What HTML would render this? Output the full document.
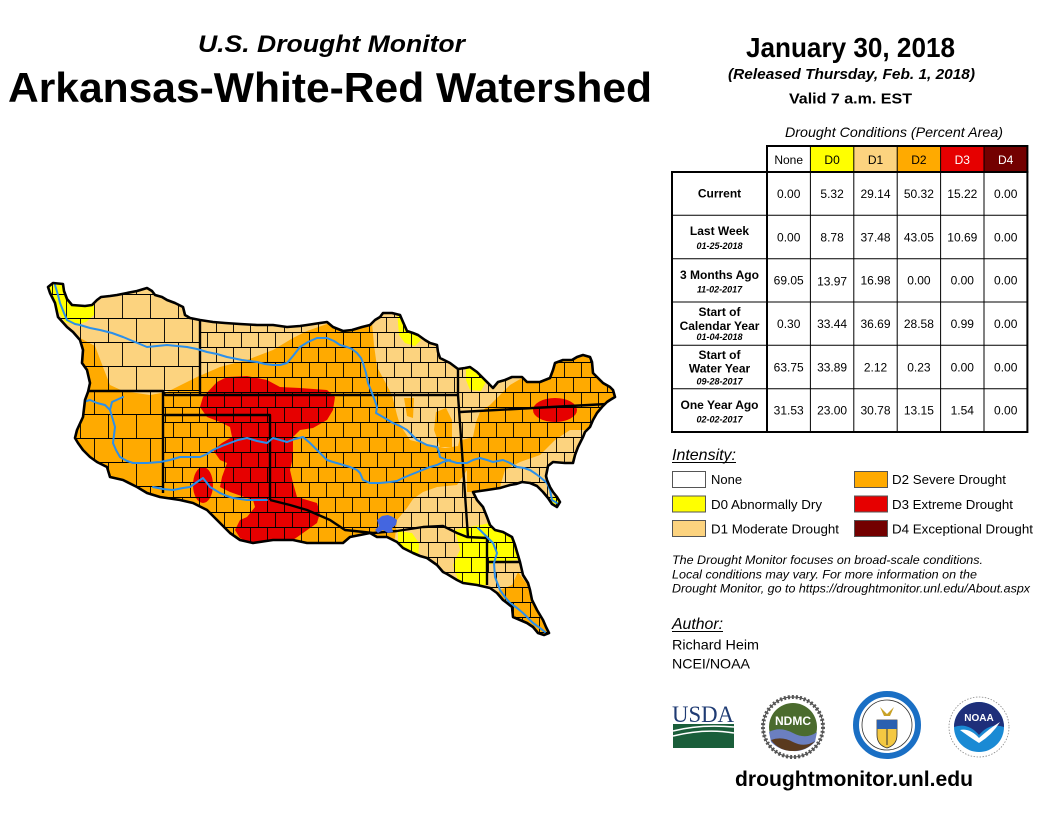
<!DOCTYPE html>
<html><head><meta charset="utf-8"><style>
html,body{margin:0;padding:0;background:#fff;}
svg{display:block;}
text{font-family:"Liberation Sans",Arial,sans-serif;}
</style></head><body>
<svg width="1056" height="816" viewBox="0 0 1056 816" xmlns="http://www.w3.org/2000/svg">
<rect width="1056" height="816" fill="#fff"/>
<defs>
<clipPath id="ws"><polygon points="50,293 48,287 53,283 63,284 64,291 67,299 72,305 85,306 92,305 97,300 101,297 110,296 117,295 127,293 137,291 147,288 152,291 155,295 162,297 167,300 175,303 183,307 185,315 190,318 200,320 213,322 225,323 240,324 257,325 273,325 287,327 300,326 307,325 320,323 327,322 333,327 343,331 352,330 362,327 370,325 375,320 380,317 383,313 392,313 400,315 403,322 407,331 413,333 418,335 425,340 430,343 437,345 438,352 440,358 450,363 458,369 465,368 470,367 477,372 483,378 490,385 493,388 498,382 505,380 512,377 522,377 527,382 540,382 550,378 553,370 555,363 563,360 572,360 577,357 583,355 590,357 592,362 593,373 598,378 603,383 610,387 613,390 615,397 610,400 607,402 602,407 597,413 593,420 590,427 585,432 583,437 578,447 575,455 573,463 565,463 553,462 548,466 546,476 547,480 550,487 553,492 557,497 560,502 557,507 552,504 548,498 543,492 537,486 530,483 522,482 516,484 510,485 500,488 487,490 473,492 477,500 483,507 487,517 490,525 495,530 503,532 512,537 515,545 517,552 520,562 523,575 528,583 530,590 532,600 537,610 543,620 546,627 549,633 544,635 538,633 533,627 527,623 520,620 513,617 512,607 507,603 503,600 497,593 490,588 477,585 463,583 457,580 447,574 443,572 437,565 427,558 420,556 413,553 403,548 397,542 387,537 377,537 370,533 360,535 350,537 343,543 325,543 307,543 293,540 273,540 253,543 240,540 230,533 220,523 207,510 193,503 180,500 160,497 147,493 137,487 123,480 110,477 107,467 97,462 90,457 83,450 78,443 75,438 77,430 83,417 85,400 88,392 90,383 87,370 82,363 83,350 80,340 73,332 67,327 58,317 55,303"/></clipPath>
<clipPath id="eastPart"><polygon points="200,270 630,270 630,650 163,650 163,392 200,392"/></clipPath>
<clipPath id="westPart"><polygon points="40,270 200,270 200,392 163,392 163,650 40,650"/></clipPath>
<pattern id="cty" width="34" height="30" patternUnits="userSpaceOnUse" x="3" y="2">
<path d="M0,0.5H34 M0,15.5H34 M0.5,0V15 M17.5,0V15 M9.5,15V30 M26.5,15V30" stroke="#000" stroke-width="0.9" fill="none"/>
</pattern>
<pattern id="ctyBig" width="56" height="48" patternUnits="userSpaceOnUse" x="10" y="6">
<path d="M0,0.5H56 M0,24.5H56 M0.5,0V24 M28.5,0V24 M14.5,24V48 M42.5,24V48" stroke="#000" stroke-width="0.9" fill="none"/>
</pattern>
</defs>

<!-- MAP -->
<g clip-path="url(#ws)">
<rect x="40" y="270" width="590" height="380" fill="#FFAA00"/>
<polygon fill="#FCD37F" points="40,270 345,270 345,322 327,324 307,331 293,338 273,350 247,360 220,367 197,377 167,392 150,395 123,391 110,385 103,367 95,346 80,338 40,338"/>
<polygon fill="#FCD37F" points="370,300 420,300 437,340 445,360 458,368 462,400 462,430 458,446 445,448 430,445 410,440 400,425 397,415 392,395 383,378 377,367 374,345"/>
<polygon fill="#FFAA00" points="436,412 446,408 452,420 452,447 440,447 434,430"/>
<polygon fill="#FFAA00" points="404,398 414,398 413,418 407,416"/>
<polygon fill="#FCD37F" points="458,365 520,365 522,378 510,385 500,395 490,405 480,412 476,422 473,437 462,440 458,430"/>
<polygon fill="#FCD37F" points="500,487 505,470 520,462 540,455 555,440 570,430 590,430 582,455 573,465 560,468 550,475 552,492 562,508 540,490 520,487"/>
<polygon fill="#FCD37F" points="467,470 467,492 478,492 490,525 505,532 515,545 520,563 525,580 532,600 545,630 470,640 380,560 395,538 397,520 407,508 413,499 423,492 437,487 457,485"/>
<polygon fill="#FFAA00" points="500,590 512,585 518,572 526,583 532,600 545,630 552,640 530,640 505,612 495,597"/>
<polygon fill="#FFFF00" points="455,530 470,527 490,523 505,530 515,540 518,560 500,562 487,565 487,585 470,585 458,580 453,565 460,550"/>
<polygon fill="#FFFF00" points="398,531 412,533 419,543 418,560 408,553 398,545"/>
<polygon fill="#FFFF00" points="397,310 405,312 408,330 414,333 421,340 415,346 405,343 399,335"/>
<polygon fill="#FFFF00" points="466,366 478,371 486,382 481,391 470,390 466,380"/>
<polygon fill="#FFFF00" points="40,270 63,280 65,292 69,301 73,306 86,306 94,304 94,315 86,322 75,325 65,322 58,311 40,300"/>
<polygon fill="#FFFF00" points="573,456 580,452 578,464 572,465"/>
<polygon fill="#FFFF00" points="550,496 556,497 560,504 554,507"/>
<polygon fill="#E60000" points="217,382 227,377 247,376 267,380 280,387 300,388 327,390 335,397 333,410 327,420 313,428 300,430 293,437 293,457 290,470 293,483 297,497 307,500 317,503 320,513 317,523 303,533 293,540 273,545 253,545 240,538 235,530 240,520 247,517 255,507 253,500 230,492 220,487 222,477 227,463 220,460 213,450 222,443 232,437 230,427 220,422 207,417 200,407 203,397"/>
<ellipse cx="203" cy="485" rx="10" ry="18" fill="#E60000"/>
<ellipse cx="555" cy="410" rx="22" ry="12" fill="#E60000"/>
<g clip-path="url(#eastPart)"><rect x="40" y="270" width="590" height="380" fill="url(#cty)"/></g>
<g clip-path="url(#westPart)"><rect x="40" y="270" width="590" height="380" fill="url(#ctyBig)"/></g>
<g fill="none" stroke="#000" stroke-width="2.4" stroke-linejoin="round">
<polyline points="200,318 200,395"/>
<polyline points="86,391 163,391 165,395 458,395"/>
<polyline points="163,391 163,493"/>
<polyline points="163,415 270,415 270,500"/>
<polyline points="270,500 290,505 307,510 330,520 345,530 373,533 397,531 423,527 443,526 457,533 467,537 487,538"/>
<polyline points="458,368 458,395 468,537"/>
<polyline points="460,412 607,404"/>
<polyline points="487,538 487,585"/>
<polyline points="487,562 520,562"/>
</g>
<g fill="none" stroke="#2B8FEA" stroke-width="2" stroke-linejoin="round" stroke-linecap="round">
<polyline points="55,285 58,295 60,303 64,313 67,320 75,324 80,325 90,328 100,330 112,333 123,337 135,342 147,347 157,346 167,345 177,346 187,347 197,349 207,352 217,354 227,357 242,360 257,362 265,364 273,365 280,365 287,363 293,356 300,347 308,342 317,338 327,338 334,341 340,345 347,347 352,349 357,353 361,358 363,363 366,373 368,383 372,393 375,401 377,407 376,413 383,417 393,423 400,426 407,430 412,435 417,440 427,445 437,447 439,452 440,457 447,460 457,463 467,463 473,460 480,458 487,460 493,462 503,460 510,463 517,467 524,468 530,470 536,474 540,477 547,483 550,490 552,500 557,503"/>
<polyline points="123,397 112,402 110,410 113,420 115,427 114,435 113,443 116,450 120,457 127,461 133,463 147,463 160,462 170,460 180,457 190,457 200,457 207,454 213,450 222,446 230,443 238,440 247,438 257,441 267,443 273,438 280,440 287,442 295,439 303,437 310,443 317,450 322,455 327,460 333,462 340,464 350,467 357,470 360,473 363,480 370,483 380,483 390,482 397,481 403,478 410,475 420,471 430,467 437,465 443,462 450,460"/>
<polyline points="83,402 90,400 97,403 105,405 110,410"/>
<polyline points="153,487 163,489 173,490 183,488 190,487 197,482 203,478 207,483 210,487 215,490 220,493 227,496 233,498 240,499 247,500 257,500 267,500"/>
<polyline points="478,528 483,533 487,537 493,543 497,553 494,563 495,577 500,590 505,597 510,603 517,608 523,613 528,618 533,623 540,628 545,632"/>
</g>
<polygon fill="#4466E0" points="377,520 382,516 388,515 393,517 397,520 396,525 392,528 393,532 388,533 383,530 378,533 375,530 379,526"/>
</g>
<polygon points="50,293 48,287 53,283 63,284 64,291 67,299 72,305 85,306 92,305 97,300 101,297 110,296 117,295 127,293 137,291 147,288 152,291 155,295 162,297 167,300 175,303 183,307 185,315 190,318 200,320 213,322 225,323 240,324 257,325 273,325 287,327 300,326 307,325 320,323 327,322 333,327 343,331 352,330 362,327 370,325 375,320 380,317 383,313 392,313 400,315 403,322 407,331 413,333 418,335 425,340 430,343 437,345 438,352 440,358 450,363 458,369 465,368 470,367 477,372 483,378 490,385 493,388 498,382 505,380 512,377 522,377 527,382 540,382 550,378 553,370 555,363 563,360 572,360 577,357 583,355 590,357 592,362 593,373 598,378 603,383 610,387 613,390 615,397 610,400 607,402 602,407 597,413 593,420 590,427 585,432 583,437 578,447 575,455 573,463 565,463 553,462 548,466 546,476 547,480 550,487 553,492 557,497 560,502 557,507 552,504 548,498 543,492 537,486 530,483 522,482 516,484 510,485 500,488 487,490 473,492 477,500 483,507 487,517 490,525 495,530 503,532 512,537 515,545 517,552 520,562 523,575 528,583 530,590 532,600 537,610 543,620 546,627 549,633 544,635 538,633 533,627 527,623 520,620 513,617 512,607 507,603 503,600 497,593 490,588 477,585 463,583 457,580 447,574 443,572 437,565 427,558 420,556 413,553 403,548 397,542 387,537 377,537 370,533 360,535 350,537 343,543 325,543 307,543 293,540 273,540 253,543 240,540 230,533 220,523 207,510 193,503 180,500 160,497 147,493 137,487 123,480 110,477 107,467 97,462 90,457 83,450 78,443 75,438 77,430 83,417 85,400 88,392 90,383 87,370 82,363 83,350 80,340 73,332 67,327 58,317 55,303" fill="none" stroke="#000" stroke-width="2.6" stroke-linejoin="round"/>

<!-- TITLES -->
<text x="198" y="52" font-size="24" font-weight="bold" font-style="italic" textLength="267" lengthAdjust="spacingAndGlyphs">U.S. Drought Monitor</text>
<text x="8" y="102" font-size="42" font-weight="bold" textLength="644" lengthAdjust="spacingAndGlyphs">Arkansas-White-Red Watershed</text>
<text x="746" y="57" font-size="28" font-weight="bold" textLength="209" lengthAdjust="spacingAndGlyphs">January 30, 2018</text>
<text x="728" y="79" font-size="15" font-weight="bold" font-style="italic" textLength="247" lengthAdjust="spacingAndGlyphs">(Released Thursday, Feb. 1, 2018)</text>
<text x="789" y="103.5" font-size="15" font-weight="bold" textLength="123" lengthAdjust="spacingAndGlyphs">Valid 7 a.m. EST</text>

<!-- TABLE -->
<text x="785" y="137" font-size="14" font-style="italic" textLength="218" lengthAdjust="spacingAndGlyphs">Drought Conditions (Percent Area)</text>
<rect x="767" y="146" width="43.4" height="26" fill="#fff"/>
<rect x="810.4" y="146" width="43.4" height="26" fill="#FFFF00"/>
<rect x="853.8" y="146" width="43.4" height="26" fill="#FCD37F"/>
<rect x="897.2" y="146" width="43.4" height="26" fill="#FFAA00"/>
<rect x="940.6" y="146" width="43.4" height="26" fill="#E60000"/>
<rect x="984" y="146" width="43.4" height="26" fill="#730000"/>
<g font-size="12" text-anchor="middle">
<text x="788.7" y="164">None</text>
<text x="832.1" y="164">D0</text>
<text x="875.5" y="164">D1</text>
<text x="918.9" y="164">D2</text>
<text x="962.3" y="164" fill="#fff">D3</text>
<text x="1005.7" y="164" fill="#fff">D4</text>
</g>
<g stroke="#000" fill="none">
<g stroke-width="1">
<line x1="810.4" y1="146" x2="810.4" y2="432"/>
<line x1="853.8" y1="146" x2="853.8" y2="432"/>
<line x1="897.2" y1="146" x2="897.2" y2="432"/>
<line x1="940.6" y1="146" x2="940.6" y2="432"/>
<line x1="984" y1="146" x2="984" y2="432"/>
<line x1="672" y1="215.3" x2="1027.4" y2="215.3"/>
<line x1="672" y1="258.7" x2="1027.4" y2="258.7"/>
<line x1="672" y1="302" x2="1027.4" y2="302"/>
<line x1="672" y1="345.3" x2="1027.4" y2="345.3"/>
<line x1="672" y1="388.7" x2="1027.4" y2="388.7"/>
</g>
<g stroke-width="2">
<rect x="767" y="146" width="260.4" height="26"/>
<rect x="672" y="172" width="355.4" height="260"/>
<line x1="767" y1="172" x2="767" y2="432"/>
</g>
</g>
<g font-size="12" font-weight="bold" text-anchor="middle">
<text x="719.5" y="197.5">Current</text>
<text x="719.5" y="235">Last Week</text>
<text x="719.5" y="279">3 Months Ago</text>
<text x="719.5" y="316">Start of</text>
<text x="719.5" y="330">Calendar Year</text>
<text x="719.5" y="359">Start of</text>
<text x="719.5" y="372.5">Water Year</text>
<text x="719.5" y="409">One Year Ago</text>
</g>
<g font-size="9" font-weight="bold" font-style="italic" text-anchor="middle">
<text x="719.5" y="249">01-25-2018</text>
<text x="719.5" y="292.5">11-02-2017</text>
<text x="719.5" y="340">01-04-2018</text>
<text x="719.5" y="384.5">09-28-2017</text>
<text x="719.5" y="422.5">02-02-2017</text>
</g>
<g font-size="12" text-anchor="middle">
<text x="788.7" y="198">0.00</text><text x="832.1" y="198">5.32</text><text x="875.5" y="198">29.14</text><text x="918.9" y="198">50.32</text><text x="962.3" y="198">15.22</text><text x="1005.7" y="198">0.00</text>
<text x="788.7" y="241.3">0.00</text><text x="832.1" y="241.3">8.78</text><text x="875.5" y="241.3">37.48</text><text x="918.9" y="241.3">43.05</text><text x="962.3" y="241.3">10.69</text><text x="1005.7" y="241.3">0.00</text>
<text x="788.7" y="284.7">69.05</text><text x="832.1" y="285.5">13.97</text><text x="875.5" y="284.7">16.98</text><text x="918.9" y="284.7">0.00</text><text x="962.3" y="284.7">0.00</text><text x="1005.7" y="284.7">0.00</text>
<text x="788.7" y="328">0.30</text><text x="832.1" y="328">33.44</text><text x="875.5" y="328">36.69</text><text x="918.9" y="328">28.58</text><text x="962.3" y="328">0.99</text><text x="1005.7" y="328">0.00</text>
<text x="788.7" y="371.3">63.75</text><text x="832.1" y="371.3">33.89</text><text x="875.5" y="371.3">2.12</text><text x="918.9" y="371.3">0.23</text><text x="962.3" y="371.3">0.00</text><text x="1005.7" y="371.3">0.00</text>
<text x="788.7" y="414.7">31.53</text><text x="832.1" y="414.7">23.00</text><text x="875.5" y="414.7">30.78</text><text x="918.9" y="414.7">13.15</text><text x="962.3" y="414.7">1.54</text><text x="1005.7" y="414.7">0.00</text>
</g>

<!-- LEGEND -->
<text x="672" y="460" font-size="16" font-style="italic" textLength="64" lengthAdjust="spacingAndGlyphs">Intensity:</text>
<line x1="672" y1="462.5" x2="736" y2="462.5" stroke="#000" stroke-width="1"/>
<g stroke="#555" stroke-width="1">
<rect x="672.5" y="471.5" width="33" height="16" fill="#fff"/>
<rect x="672.5" y="496" width="33" height="16" fill="#FFFF00"/>
<rect x="672.5" y="520.5" width="33" height="16" fill="#FCD37F"/>
<rect x="854.5" y="471.5" width="33" height="16" fill="#FFAA00"/>
<rect x="854.5" y="496" width="33" height="16" fill="#E60000"/>
<rect x="854.5" y="520.5" width="33" height="16" fill="#730000"/>
</g>
<g font-size="13">
<text x="711" y="484">None</text>
<text x="711" y="509" textLength="111" lengthAdjust="spacingAndGlyphs">D0 Abnormally Dry</text>
<text x="711" y="533.5" textLength="128" lengthAdjust="spacingAndGlyphs">D1 Moderate Drought</text>
<text x="892" y="484" textLength="114" lengthAdjust="spacingAndGlyphs">D2 Severe Drought</text>
<text x="892" y="509" textLength="121" lengthAdjust="spacingAndGlyphs">D3 Extreme Drought</text>
<text x="892" y="533.5" textLength="141" lengthAdjust="spacingAndGlyphs">D4 Exceptional Drought</text>
</g>
<g font-size="12" font-style="italic">
<text x="672" y="564" textLength="311" lengthAdjust="spacingAndGlyphs">The Drought Monitor focuses on broad-scale conditions.</text>
<text x="672" y="578.3" textLength="305" lengthAdjust="spacingAndGlyphs">Local conditions may vary. For more information on the</text>
<text x="672" y="592.7" textLength="358" lengthAdjust="spacingAndGlyphs">Drought Monitor, go to https://droughtmonitor.unl.edu/About.aspx</text>
</g>
<text x="672" y="629" font-size="16" font-style="italic" textLength="51" lengthAdjust="spacingAndGlyphs">Author:</text>
<line x1="672" y1="631.5" x2="723" y2="631.5" stroke="#000" stroke-width="1"/>
<text x="672" y="649.3" font-size="14" textLength="87" lengthAdjust="spacingAndGlyphs">Richard Heim</text>
<text x="672" y="668.3" font-size="14" textLength="78" lengthAdjust="spacingAndGlyphs">NCEI/NOAA</text>

<!-- LOGOS -->
<text x="672" y="722" font-size="23" style="font-family:'Liberation Serif',serif" fill="#1F3B73" textLength="62" lengthAdjust="spacingAndGlyphs">USDA</text>
<rect x="673" y="724" width="61" height="24" fill="#1A5E3A"/>
<path d="M673,731 Q700,724 734,727 M673,736 Q705,728 734,733" stroke="#fff" stroke-width="1.5" fill="none"/>

<circle cx="793" cy="727" r="30" fill="#fff" stroke="#444" stroke-width="1"/>
<circle cx="793" cy="727" r="30" fill="none" stroke="#555" stroke-width="4" stroke-dasharray="2 2"/>
<circle cx="793" cy="727" r="24" fill="#4B6B2E"/>
<path d="M769,732 Q780,726 793,733 Q806,740 817,732 L815,742 Q805,752 793,751 Q780,751 771,742 Z" fill="#6B7FC0"/>
<path d="M771,740 Q782,736 793,742 Q805,748 815,741 Q807,751 793,751 Q779,751 771,740 Z" fill="#5A3A1E"/>
<text x="793" y="725" font-size="12" font-weight="bold" fill="#fff" text-anchor="middle">NDMC</text>

<circle cx="887" cy="725" r="31" fill="#fff" stroke="#1A6FC4" stroke-width="6"/>
<circle cx="887" cy="725" r="25" fill="none" stroke="#333" stroke-width="0.8"/>
<path d="M877,720 L897,720 L897,735 Q897,745 887,748 Q877,745 877,735 Z" fill="#F4C842" stroke="#333" stroke-width="0.8"/>
<rect x="877" y="720" width="20" height="9" fill="#2A60B0"/>
<path d="M880,707 L887,714 L894,707 L890,716 L884,716 Z" fill="#C9A227"/>
<line x1="887" y1="729" x2="887" y2="745" stroke="#333" stroke-width="1"/>

<circle cx="979" cy="727" r="30" fill="#fff" stroke="#888" stroke-width="0.8" stroke-dasharray="1.5 1.5"/>
<circle cx="979" cy="727" r="25" fill="#1A8AD4"/>
<path d="M954,727 A25,25 0 0 1 1004,727 Q990,722 979,735 Q968,722 954,727 Z" fill="#1E2F7A"/>
<path d="M960,730 Q970,728 979,738 Q990,728 1000,722 Q992,735 979,743 Q968,736 960,730 Z" fill="#fff"/>
<text x="979" y="721" font-size="10" font-weight="bold" fill="#fff" text-anchor="middle">NOAA</text>

<text x="735" y="786" font-size="21" font-weight="bold" textLength="238" lengthAdjust="spacingAndGlyphs">droughtmonitor.unl.edu</text>
</svg>
</body></html>
